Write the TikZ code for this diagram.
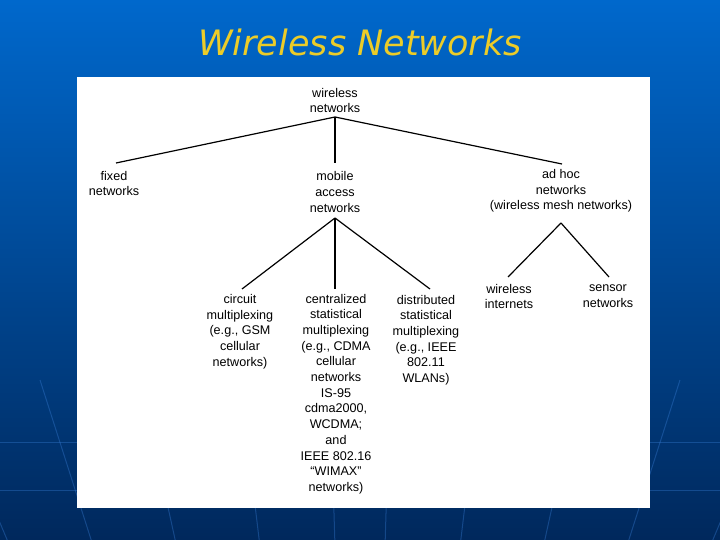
\documentclass[tikz,border=0pt]{standalone}
\usepackage{fontspec}
\setmainfont{Liberation Sans}
\newfontfamily\titlefont{DejaVu Sans}
\definecolor{bgtop}{RGB}{0,104,204}
\definecolor{bgmid}{RGB}{0,82,168}
\definecolor{bgbot}{RGB}{0,40,92}
\definecolor{titleyellow}{RGB}{236,204,40}
\definecolor{gridline}{RGB}{60,130,220}
\begin{document}
\begin{tikzpicture}[x=1pt,y=-1pt,
  lbl/.style={align=center, inner sep=1.5pt, font=\fontsize{12.6}{15.7}\selectfont},
  conn/.style={line width=1.2pt, black},
  faint/.style={gridline, line width=1pt, opacity=0.35}]
\useasboundingbox (0,0) rectangle (720,540);
% background
\shade[top color=bgtop, middle color=bgmid, bottom color=bgbot] (0,0) rectangle (720,540);
% faint perspective lines
\foreach \xa in {-260,-160,-60,40,140,240,330,390,480,580,680,780,880,980}{
  \draw[faint] (\xa,380) -- ({\xa+(360-\xa)*0.16},540);
}
\draw[faint] (0,442) -- (720,442);
\draw[faint] (0,490) -- (720,490);
% title
\node (title) [text=titleyellow, font=\titlefont\itshape\fontsize{35}{40}\selectfont] at (360,42) {Wireless Networks};
% panel
\fill[white] (77,77) rectangle (650,508);
% nodes
\node[lbl] (wn) at (335,100.5) {wireless\\networks};
\node[lbl] (fixed) at (114,183.5) {fixed\\networks};
\node[lbl] (mobile) at (335,192) {mobile\\access\\networks};
\node[lbl] (adhoc) at (561,191) {ad hoc\\networks\\(wireless mesh networks)};
\node[lbl] (circuit) at (240,331.5) {circuit\\multiplexing\\(e.g., GSM\\cellular\\networks)};
\node[lbl] (central) at (336,394) {centralized\\statistical\\multiplexing\\(e.g., CDMA\\cellular\\networks\\IS-95\\cdma2000,\\WCDMA;\\and\\IEEE 802.16\\``WIMAX''\\networks)};
\node[lbl] (distrib) at (426,340) {distributed\\statistical\\multiplexing\\(e.g., IEEE\\802.11\\WLANs)};
\node[lbl] (winet) at (509,296.5) {wireless\\internets};
\node[lbl] (sensor) at (608,296.5) {sensor\\networks};
% connector ends
\coordinate (j0) at (335,117);
\coordinate (f0) at (116,163);
\coordinate (m0) at (335,163);
\coordinate (a0) at (562,164);
\coordinate (j1) at (335,218);
\coordinate (c1) at (242,289);
\coordinate (c2) at (335,289);
\coordinate (c3) at (430,289);
\coordinate (j2) at (561,223);
\coordinate (w1) at (508,277);
\coordinate (s1) at (609,277);
% connectors
\draw[conn] (j0) -- (f0);
\draw[conn] (j0) -- (m0);
\draw[conn] (j0) -- (a0);
\draw[conn] (j1) -- (c1);
\draw[conn] (j1) -- (c2);
\draw[conn] (j1) -- (c3);
\draw[conn] (j2) -- (w1);
\draw[conn] (j2) -- (s1);
\end{tikzpicture}
\end{document}
